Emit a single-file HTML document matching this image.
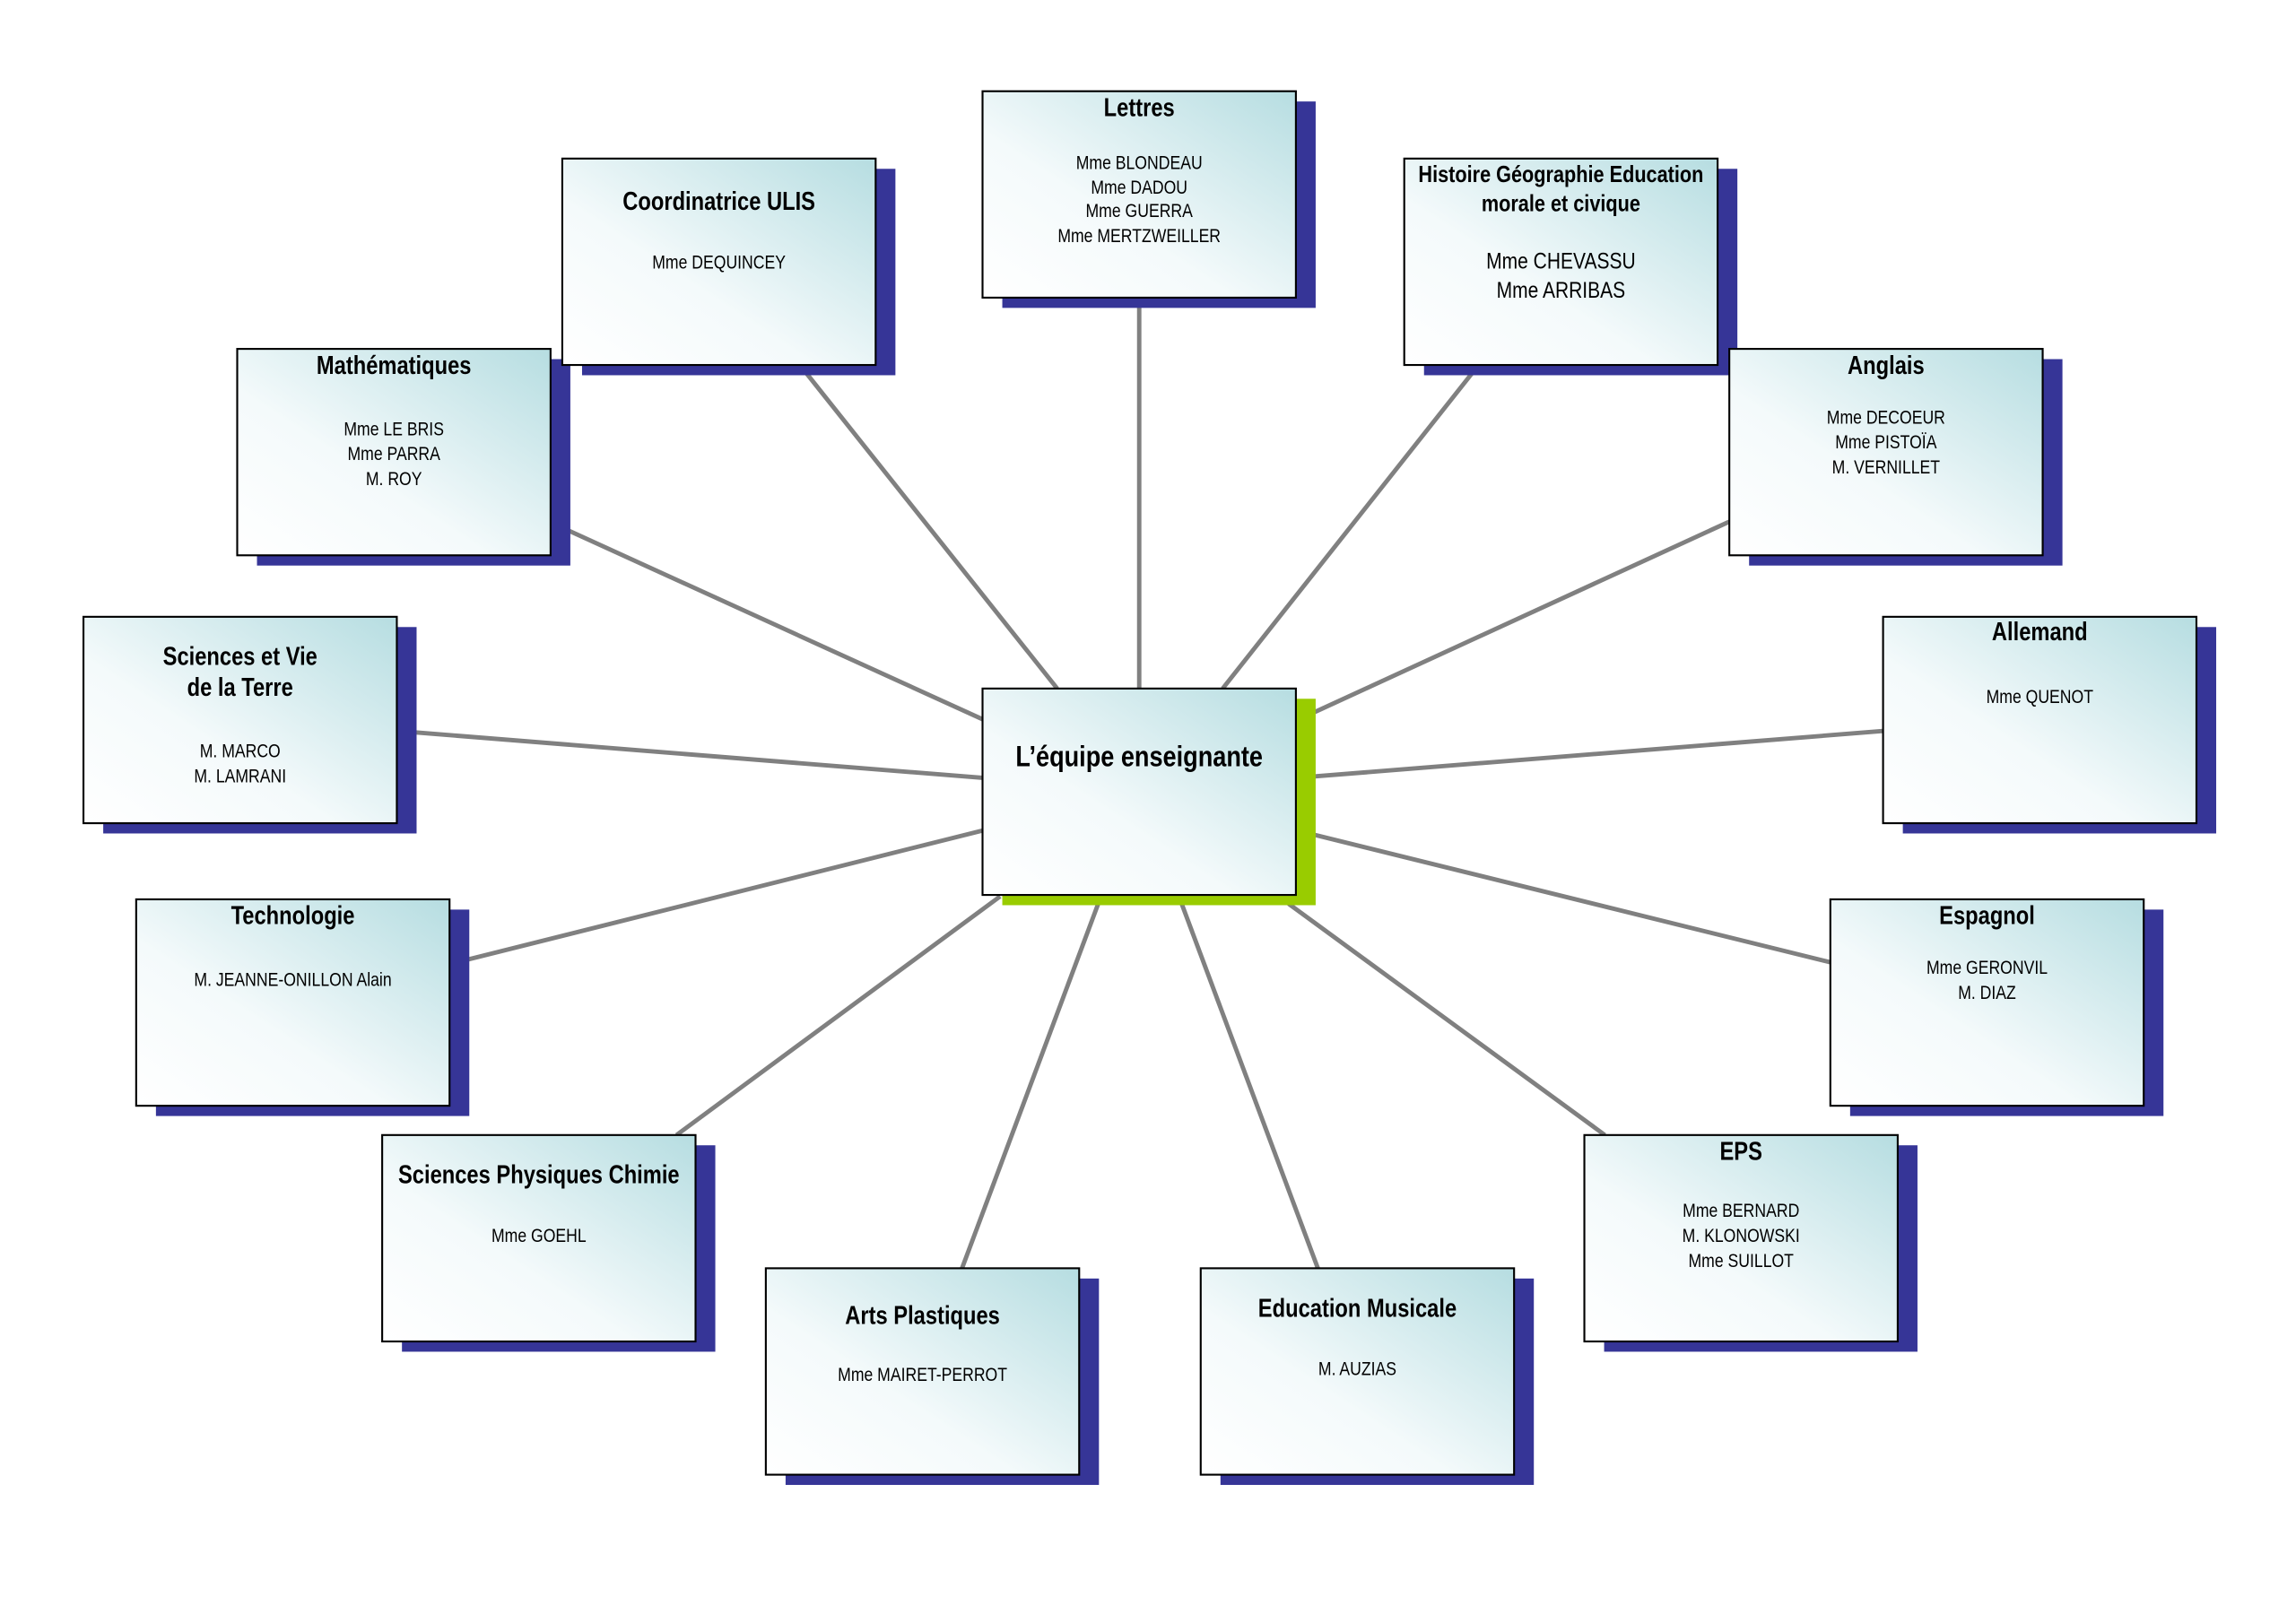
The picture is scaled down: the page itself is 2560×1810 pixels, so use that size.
<!DOCTYPE html>
<html><head><meta charset="utf-8"><style>
html,body{margin:0;padding:0;background:#fff;}
svg{display:block;}
text{font-family:"Liberation Sans",sans-serif;text-anchor:middle;fill:#000;transform-box:fill-box;transform-origin:center;transform:scaleX(0.83);}
.t{font-weight:bold;font-size:17.5px;}
.n{font-size:13px;}
</style></head><body>
<svg width="2560" height="1810" viewBox="0 0 1568 1108" xmlns="http://www.w3.org/2000/svg">
<defs>
<linearGradient id="g" x1="0" y1="1" x2="1" y2="0">
<stop offset="0" stop-color="#ffffff"/>
<stop offset="0.4" stop-color="#f4fafb"/>
<stop offset="1" stop-color="#b6dde1"/>
</linearGradient>
</defs>
<g stroke="#808080" stroke-width="3">
<line x1="778" y1="202" x2="778" y2="470"/>
<line x1="551" y1="255" x2="722" y2="470"/>
<line x1="1005" y1="255" x2="835" y2="470"/>
<line x1="388" y1="362" x2="671" y2="491"/>
<line x1="1181" y1="356" x2="898" y2="486"/>
<line x1="284" y1="500" x2="671" y2="531"/>
<line x1="1286" y1="499" x2="898" y2="530"/>
<line x1="320" y1="655" x2="671" y2="567"/>
<line x1="1250" y1="657" x2="898" y2="570"/>
<line x1="462" y1="775" x2="683" y2="612"/>
<line x1="1096" y1="775" x2="880" y2="617"/>
<line x1="657" y1="866" x2="750" y2="617"/>
<line x1="900" y1="866" x2="807" y2="617"/>
</g>
<g fill="#363597">
<rect x="684.5" y="69" width="214" height="141"/>
<rect x="397.5" y="115" width="214" height="141"/>
<rect x="972.5" y="115" width="214" height="141"/>
<rect x="175.5" y="245" width="214" height="141"/>
<rect x="1194.5" y="245" width="214" height="141"/>
<rect x="70.5" y="428" width="214" height="141"/>
<rect x="1299.5" y="428" width="214" height="141"/>
<rect x="106.5" y="621" width="214" height="141"/>
<rect x="1263.5" y="621" width="214" height="141"/>
<rect x="274.5" y="782" width="214" height="141"/>
<rect x="1095.5" y="782" width="214" height="141"/>
<rect x="536.5" y="873" width="214" height="141"/>
<rect x="833.5" y="873" width="214" height="141"/>
</g>
<rect x="684.5" y="477" width="214" height="141" fill="#99cc00"/>
<g fill="url(#g)" stroke="#000" stroke-width="1.3">
<rect x="671" y="62" width="214" height="141"/>
<rect x="384" y="108" width="214" height="141"/>
<rect x="959" y="108" width="214" height="141"/>
<rect x="162" y="238" width="214" height="141"/>
<rect x="1181" y="238" width="214" height="141"/>
<rect x="57" y="421" width="214" height="141"/>
<rect x="1286" y="421" width="214" height="141"/>
<rect x="93" y="614" width="214" height="141"/>
<rect x="1250" y="614" width="214" height="141"/>
<rect x="261" y="775" width="214" height="141"/>
<rect x="1082" y="775" width="214" height="141"/>
<rect x="523" y="866" width="214" height="141"/>
<rect x="820" y="866" width="214" height="141"/>
<rect x="671" y="470" width="214" height="141"/>
</g>
<text x="778" y="523" style="font-weight:bold;font-size:20px">L’équipe enseignante</text>

<text class="t" x="778" y="79">Lettres</text>
<text class="n" x="778" y="115">Mme BLONDEAU</text>
<text class="n" x="778" y="132">Mme DADOU</text>
<text class="n" x="778" y="148">Mme GUERRA</text>
<text class="n" x="778" y="165">Mme MERTZWEILLER</text>

<text class="t" x="491" y="143">Coordinatrice ULIS</text>
<text class="n" x="491" y="183">Mme DEQUINCEY</text>

<text class="t" x="1066" y="124" style="font-size:16px">Histoire Géographie Education</text>
<text class="t" x="1066" y="144" style="font-size:16px">morale et civique</text>
<text class="n" x="1066" y="183" style="font-size:15.5px">Mme CHEVASSU</text>
<text class="n" x="1066" y="203" style="font-size:15.5px">Mme ARRIBAS</text>

<text class="t" x="269" y="255">Mathématiques</text>
<text class="n" x="269" y="297">Mme LE BRIS</text>
<text class="n" x="269" y="314">Mme PARRA</text>
<text class="n" x="269" y="331">M. ROY</text>

<text class="t" x="1288" y="255">Anglais</text>
<text class="n" x="1288" y="289">Mme DECOEUR</text>
<text class="n" x="1288" y="306">Mme PISTOÏA</text>
<text class="n" x="1288" y="323">M. VERNILLET</text>

<text class="t" x="164" y="454">Sciences et Vie</text>
<text class="t" x="164" y="475">de la Terre</text>
<text class="n" x="164" y="517">M. MARCO</text>
<text class="n" x="164" y="534">M. LAMRANI</text>

<text class="t" x="1393" y="437">Allemand</text>
<text class="n" x="1393" y="480">Mme QUENOT</text>

<text class="t" x="200" y="631">Technologie</text>
<text class="n" x="200" y="673">M. JEANNE-ONILLON Alain</text>

<text class="t" x="1357" y="631">Espagnol</text>
<text class="n" x="1357" y="665">Mme GERONVIL</text>
<text class="n" x="1357" y="682">M. DIAZ</text>

<text class="t" x="368" y="808">Sciences Physiques Chimie</text>
<text class="n" x="368" y="848">Mme GOEHL</text>

<text class="t" x="1189" y="792">EPS</text>
<text class="n" x="1189" y="831">Mme BERNARD</text>
<text class="n" x="1189" y="848">M. KLONOWSKI</text>
<text class="n" x="1189" y="865">Mme SUILLOT</text>

<text class="t" x="630" y="904">Arts Plastiques</text>
<text class="n" x="630" y="943">Mme MAIRET-PERROT</text>

<text class="t" x="927" y="899">Education Musicale</text>
<text class="n" x="927" y="939">M. AUZIAS</text>
</svg>
</body></html>
